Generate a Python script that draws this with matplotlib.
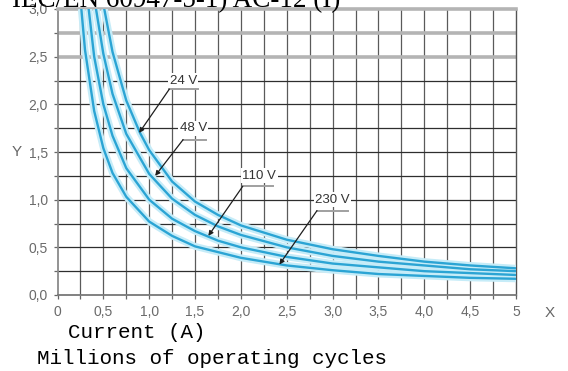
import numpy as np
import matplotlib
matplotlib.use('Agg')
import matplotlib.pyplot as plt

# curve points (x = current in A, y = millions of cycles)
x_24v = [0.51, 0.6, 0.75, 0.9, 1.0, 1.25, 1.5, 1.75, 2.0, 2.5, 3.0, 3.5, 4.0, 4.5, 5.0]
y_24v = [3.0, 2.55, 2.04, 1.70, 1.52, 1.19, 0.98, 0.84, 0.73, 0.58, 0.48, 0.41, 0.35, 0.31, 0.28]

x_48v = [0.42, 0.5, 0.6, 0.75, 1.0, 1.25, 1.5, 1.75, 2.0, 2.5, 3.0, 3.5, 4.0, 4.5, 5.0]
y_48v = [3.0, 2.53, 2.11, 1.69, 1.27, 1.01, 0.84, 0.72, 0.63, 0.50, 0.41, 0.35, 0.31, 0.27, 0.25]

x_110v = [0.34, 0.4, 0.5, 0.6, 0.75, 1.0, 1.25, 1.5, 1.75, 2.0, 2.5, 3.0, 3.5, 4.0, 4.5, 5.0]
y_110v = [3.0, 2.5, 2.0, 1.67, 1.33, 1.0, 0.80, 0.67, 0.57, 0.50, 0.40, 0.33, 0.29, 0.25, 0.23, 0.21]

x_230v = [0.26, 0.3, 0.4, 0.5, 0.6, 0.75, 1.0, 1.25, 1.5, 2.0, 2.5, 3.0, 3.5, 4.0, 4.5, 5.0]
y_230v = [3.0, 2.57, 1.93, 1.54, 1.28, 1.03, 0.77, 0.62, 0.51, 0.39, 0.31, 0.26, 0.22, 0.20, 0.18, 0.17]

series = [(x_24v, y_24v), (x_48v, y_48v), (x_110v, y_110v), (x_230v, y_230v)]

labels = ['24 V', '48 V', '110 V', '230 V']
x_ticks = [0, 0.5, 1.0, 1.5, 2.0, 2.5, 3.0, 3.5, 4.0, 4.5, 5.0]
x_ticklabels = ['0', '0,5', '1,0', '1,5', '2,0', '2,5', '3,0', '3,5', '4,0', '4,5', '5']
y_ticks = [0, 0.5, 1.0, 1.5, 2.0, 2.5, 3.0]
y_ticklabels = ['0,0', '0,5', '1,0', '1,5', '2,0', '2,5', '3,0']

# label placement: text centre, underline span/height, arrow tip
text_pos = [(1.37, 2.25), (1.48, 1.75), (2.20, 1.25), (3.00, 1.0)]
underline = [(1.22, 1.53, 2.16), (1.37, 1.62, 1.63), (2.02, 2.35, 1.14), (2.83, 3.17, 0.885)]
tips = [(0.89, 1.70), (1.065, 1.25), (1.645, 0.62), (2.42, 0.32)]

narrow = ['Liberation Sans Narrow', 'Liberation Sans', 'DejaVu Sans']

W, H = 568, 371
fig = plt.figure(figsize=(W / 100, H / 100), dpi=100)
ax = fig.add_axes([57.5 / W, 1 - 295 / H, (516 - 57.5) / W, (295 - 9) / H])
ax.set_xlim(0, 5)
ax.set_ylim(0, 3)

# grid every 0.25
for gx in np.arange(0.25, 5.0, 0.25):
    ax.axvline(gx, color='#5a5a5a', lw=0.9, zorder=1)
for gy in np.arange(0.25, 3.0, 0.25):
    if gy in (2.5, 2.75):
        ax.axhline(gy, color='#b4b4b4', lw=2.6, zorder=1)
    else:
        ax.axhline(gy, color='#2e2e2e', lw=0.9, zorder=1)

ax.spines['top'].set_color('#b4b4b4')
ax.spines['top'].set_linewidth(2.6)
ax.spines['left'].set_color('#8a8a8a')
ax.spines['left'].set_linewidth(1.3)
ax.spines['bottom'].set_color('#777777')
ax.spines['bottom'].set_linewidth(1.3)
ax.spines['right'].set_color('#555555')
ax.spines['right'].set_linewidth(1.0)

ax.set_xticks(x_ticks)
ax.set_xticklabels(x_ticklabels)
ax.set_yticks(y_ticks)
ax.set_yticklabels(y_ticklabels)
ax.set_xticks(np.arange(0, 5.01, 0.25), minor=True)
ax.set_yticks(np.arange(0, 3.01, 0.25), minor=True)
ax.tick_params(which='both', length=3, width=0.9, color='#666666', direction='out')
ax.tick_params(axis='both', labelsize=10, labelcolor='#6a6a6a', pad=4)
for t in ax.get_xticklabels() + ax.get_yticklabels():
    t.set_family(narrow)

# curves with a soft halo
for xs, ys in series:
    ax.plot(xs, ys, color='#c6ecf8', lw=5, solid_capstyle='butt', zorder=3)
for xs, ys in series:
    ax.plot(xs, ys, color='#2ba4d4', lw=1.7, zorder=4)

# voltage labels with leader arrows
for lab, (tx, ty), (u0, u1, uy), tip in zip(labels, text_pos, underline, tips):
    ax.text(tx, ty, lab, ha='center', va='center', fontsize=9.5, color='#333333',
            family=narrow, zorder=6,
            bbox=dict(facecolor='white', edgecolor='none', pad=1.0))
    ax.plot([u0, u1], [uy, uy], color='#a0a0a0', lw=1.4, zorder=6)
    ax.annotate('', xy=tip, xytext=(u0, uy), zorder=7,
                arrowprops=dict(arrowstyle='-|>', color='#1e1e1e', lw=0.9,
                                mutation_scale=7, shrinkA=0, shrinkB=0))

fig.text(16.7 / W, 1 - 152 / H, 'Y', ha='center', va='center', fontsize=11,
         color='#666666', family=narrow)
fig.text(550 / W, 1 - 313 / H, 'X', ha='center', va='center', fontsize=11,
         color='#666666', family=narrow)

fig.text(68 / W, 1 - 333 / H, 'Current (A)', ha='left', va='center',
         fontsize=15, family='Liberation Mono', color='black')
fig.text(37 / W, 1 - 359 / H, 'Millions of operating cycles', ha='left', va='center',
         fontsize=15, family='Liberation Mono', color='black')

# title is cut off by the top edge in the reference
fig.text(12 / W, 1 - 7 / H, 'IEC/EN 60947-5-1) AC-12 (I)', ha='left', va='baseline',
         fontsize=19.5, family='Liberation Serif', color='black')

fig.savefig('out.png', dpi=100)
